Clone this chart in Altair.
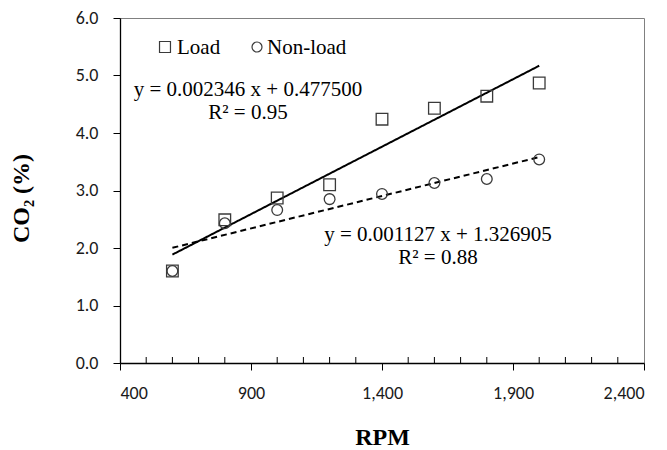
import altair as alt
import pandas as pd

# Engine speed (RPM) and measured CO2 (%)
rpm = [600, 800, 1000, 1200, 1400, 1600, 1800, 2000]
co2_load = [1.60, 2.49, 2.87, 3.10, 4.24, 4.43, 4.64, 4.87]
co2_nonload = [1.60, 2.43, 2.66, 2.85, 2.94, 3.13, 3.20, 3.54]

series = ["Load", "Non-load"]

# Linear trend lines: slope, intercept, R², fitted range
fit_slope = [0.002346, 0.001127]
fit_intercept = [0.477500, 1.326905]
fit_r2 = [0.95, 0.88]
fit_range = [600, 2000]

x_major = [400, 900, 1400, 1900, 2400]
x_minor = [500, 600, 700, 800, 1000, 1100, 1200, 1300, 1500, 1600,
           1700, 1800, 2000, 2100, 2200, 2300]
y_ticks = [0, 1, 2, 3, 4, 5, 6]

W, H = 524, 345
SERIF = "Liberation Serif"
SANS = "Carlito, Lato"
MARK_COLOR = "#3a3a3a"

shapes = ["square", "circle"]
sizes = [135, 115]
dashes = [[1, 0], [6, 4]]

x_scale = alt.Scale(domain=[400, 2400], nice=False, zero=False)
y_scale = alt.Scale(domain=[0, 6], nice=False)

x_enc = alt.X(
    "rpm:Q", scale=x_scale,
    axis=alt.Axis(values=x_major, format=",.0f", title="RPM", grid=False,
                  tickSize=7, labelPadding=14, titleY=74,
                  titleBaseline="middle"),
)
y_enc = alt.Y(
    "co2:Q", scale=y_scale,
    axis=alt.Axis(values=y_ticks, format=".1f", title="CO₂ (%)", grid=False,
                  tickSize=7, labelPadding=15, titleX=-99, titleY=180,
                  titleAngle=270, titleBaseline="middle"),
)

layers = []

# Trend lines drawn from the stated fit equations
for s, m, b, d in zip(series, fit_slope, fit_intercept, dashes):
    fit_df = pd.DataFrame({"rpm": fit_range,
                           "co2": [m * xv + b for xv in fit_range]})
    layers.append(
        alt.Chart(fit_df).mark_line(color="black", strokeWidth=2, strokeDash=d)
        .encode(x=x_enc, y=y_enc)
    )

# Measured points, open markers
for vals, shp, sz in zip([co2_load, co2_nonload], shapes, sizes):
    pts = pd.DataFrame({"rpm": rpm, "co2": vals})
    layers.append(
        alt.Chart(pts).mark_point(filled=False, shape=shp, size=sz,
                                  color=MARK_COLOR, strokeWidth=1.3, opacity=1)
        .encode(x=x_enc, y=y_enc)
    )

# Minor ticks pointing into the plot
minor = pd.DataFrame({"rpm": x_minor})
layers.append(
    alt.Chart(minor).mark_rule(color="black", strokeWidth=1)
    .encode(x=x_enc, y=alt.value(H), y2=alt.value(H - 6))
)

# Legend row
legend_sym_x = [45, 137]
legend_txt_x = [57, 147]
for s, shp, sz, sx, tx in zip(series, shapes, sizes, legend_sym_x, legend_txt_x):
    lg = pd.DataFrame({"series": [s]})
    layers.append(
        alt.Chart(lg).mark_point(filled=False, shape=shp, size=sz - 15,
                                 color=MARK_COLOR, strokeWidth=1.2, opacity=1)
        .encode(x=alt.value(sx), y=alt.value(29))
    )
    layers.append(
        alt.Chart(lg).mark_text(font=SERIF, fontSize=21, align="left",
                                baseline="alphabetic", color="black")
        .encode(text="series:N", x=alt.value(tx), y=alt.value(36))
    )

# Fit equations
eq_df = pd.DataFrame({
    "label": [f"y = {m:.6f} x + {b:.6f}\nR² = {r:.2f}"
              for m, b, r in zip(fit_slope, fit_intercept, fit_r2)]
})
eq_style = dict(font=SERIF, fontSize=21, align="center", baseline="alphabetic",
                lineBreak="\n", lineHeight=23, color="black")
layers.append(
    alt.Chart(eq_df.iloc[[0]]).mark_text(**eq_style)
    .encode(text="label:N", x=alt.value(128), y=alt.value(78))
)
layers.append(
    alt.Chart(eq_df.iloc[[1]]).mark_text(**eq_style)
    .encode(text="label:N", x=alt.value(318), y=alt.value(223))
)

chart = (
    alt.layer(*layers)
    .properties(
        width=W, height=H,
        autosize=alt.AutoSizeParams(type="none"),
        padding={"left": 120, "top": 18, "right": 23, "bottom": 87},
        background="white",
    )
    .configure_view(stroke="#808080", strokeWidth=1)
    .configure_axis(
        domainColor="black", domainWidth=1.3, tickColor="black", tickWidth=1,
        labelFont=SANS, labelFontSize=18, labelColor="#1a1a1a",
        titleFont=SERIF, titleFontSize=24, titleFontWeight="bold",
        titleColor="black",
    )
)

chart.save("out.html", embed_options={"renderer": "svg", "actions": False})
